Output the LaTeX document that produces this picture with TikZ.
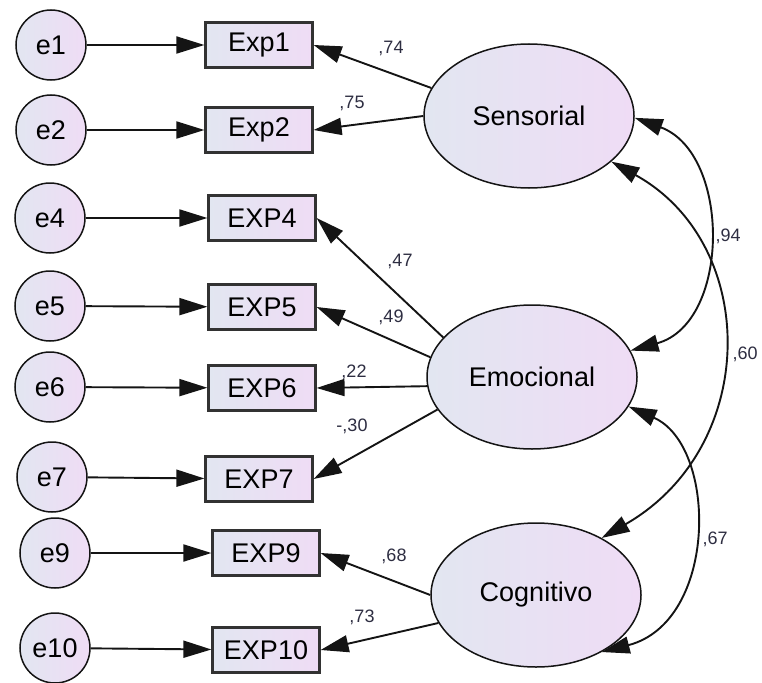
\documentclass[tikz,border=0pt]{standalone}
\usepackage{fontspec}
\setmainfont{Liberation Sans}
\usetikzlibrary{arrows.meta,shapes.geometric}
\definecolor{shadeL}{RGB}{226,230,241}
\definecolor{shadeR}{RGB}{239,220,245}
\definecolor{edgegray}{RGB}{20,20,20}
\definecolor{boxedge}{RGB}{50,50,50}
\definecolor{labelink}{RGB}{45,45,65}
\begin{document}
\begin{tikzpicture}[x=1pt,y=-1pt,
  errnode/.style={circle,draw=edgegray,line width=1.5pt,minimum size=70pt,inner sep=0pt,
    left color=shadeL,right color=shadeR,font=\fontsize{27}{30}\selectfont},
  obsbox/.style={rectangle,draw=boxedge,line width=2.2pt,minimum width=107pt,minimum height=45pt,
    inner sep=0pt,left color=shadeL,right color=shadeR,font=\fontsize{27}{30}\selectfont},
  latent/.style={ellipse,draw=edgegray,line width=1.5pt,minimum width=210pt,minimum height=144pt,
    inner sep=0pt,left color=shadeL,right color=shadeR,font=\fontsize{27}{30}\selectfont},
  regpath/.style={line width=1.9pt,draw=edgegray,-{Triangle[length=28pt,width=17pt]}},
  covpath/.style={line width=1.9pt,draw=edgegray,{Triangle[length=28pt,width=17pt]}-{Triangle[length=28pt,width=17pt]}},
  coef/.style={font=\fontsize{18}{20}\selectfont,text=labelink,inner sep=0pt}
]
\useasboundingbox (0,0) rectangle (762,682);

% error terms
\node[errnode] (e1)  at (51,45)  {e1};
\node[errnode] (e2)  at (51,130) {e2};
\node[errnode] (e4)  at (50,218) {e4};
\node[errnode] (e5)  at (50,306) {e5};
\node[errnode] (e6)  at (50,387) {e6};
\node[errnode] (e7)  at (52,477) {e7};
\node[errnode] (e9)  at (55,553) {e9};
\node[errnode] (e10) at (55,648) {e10};

% observed items
\node[obsbox] (x1)  at (259,45)  {Exp1};
\node[obsbox] (x2)  at (259,130) {Exp2};
\node[obsbox] (x4)  at (262,218) {EXP4};
\node[obsbox] (x5)  at (262,307) {EXP5};
\node[obsbox] (x6)  at (262,388) {EXP6};
\node[obsbox] (x7)  at (259,479) {EXP7};
\node[obsbox] (x9)  at (266,553) {EXP9};
\node[obsbox] (x10) at (266,650) {EXP10};

% latent factors
\node[latent] (sen) at (529,116) {Sensorial};
\node[latent] (emo) at (532,377) {Emocional};
\node[latent] (cog) at (536,595) {Cognitivo};

% error paths
\draw[regpath] (e1) -- (x1);
\draw[regpath] (e2) -- (x2);
\draw[regpath] (e4) -- (x4);
\draw[regpath] (e5) -- (x5);
\draw[regpath] (e6) -- (x6);
\draw[regpath] (e7) -- (x7);
\draw[regpath] (e9) -- (x9);
\draw[regpath] (e10) -- (x10);

% loadings
\draw[regpath] (sen.164) -- (x1.east);
\draw[regpath] (sen.180) -- (x2.east);
\draw[regpath] (emo.156) -- (x4.east);
\draw[regpath] (emo.169) -- (x5.east);
\draw[regpath] (emo.185) -- (x6.east);
\draw[regpath] (emo.199) -- (x7.east);
\draw[regpath] (cog.180) -- (x9.east);
\draw[regpath] (cog.196) -- (x10.east);

\node[coef] (l1)  at (391,48)  {,74};
\node[coef] (l2)  at (352,103) {,75};
\node[coef] (l4)  at (400,261) {,47};
\node[coef] (l5)  at (391,317) {,49};
\node[coef] (l6)  at (354,372) {,22};
\node[coef] (l7)  at (352,426) {-,30};
\node[coef] (l9)  at (394,556) {,68};
\node[coef] (l10) at (362,617) {,73};

% factor covariances
\draw[covpath] (sen.-1) .. controls (731,153) and (731,323) .. (emo.15);
\draw[covpath] (sen.-29) .. controls (760,244) and (760,447) .. (cog.41);
\draw[covpath] (emo.-17) .. controls (718,446) and (718,622) .. (cog.-41);

\node[coef] (c1) at (728,236) {,94};
\node[coef] (c2) at (745,354) {,60};
\node[coef] (c3) at (715,539) {,67};
\end{tikzpicture}
\end{document}
